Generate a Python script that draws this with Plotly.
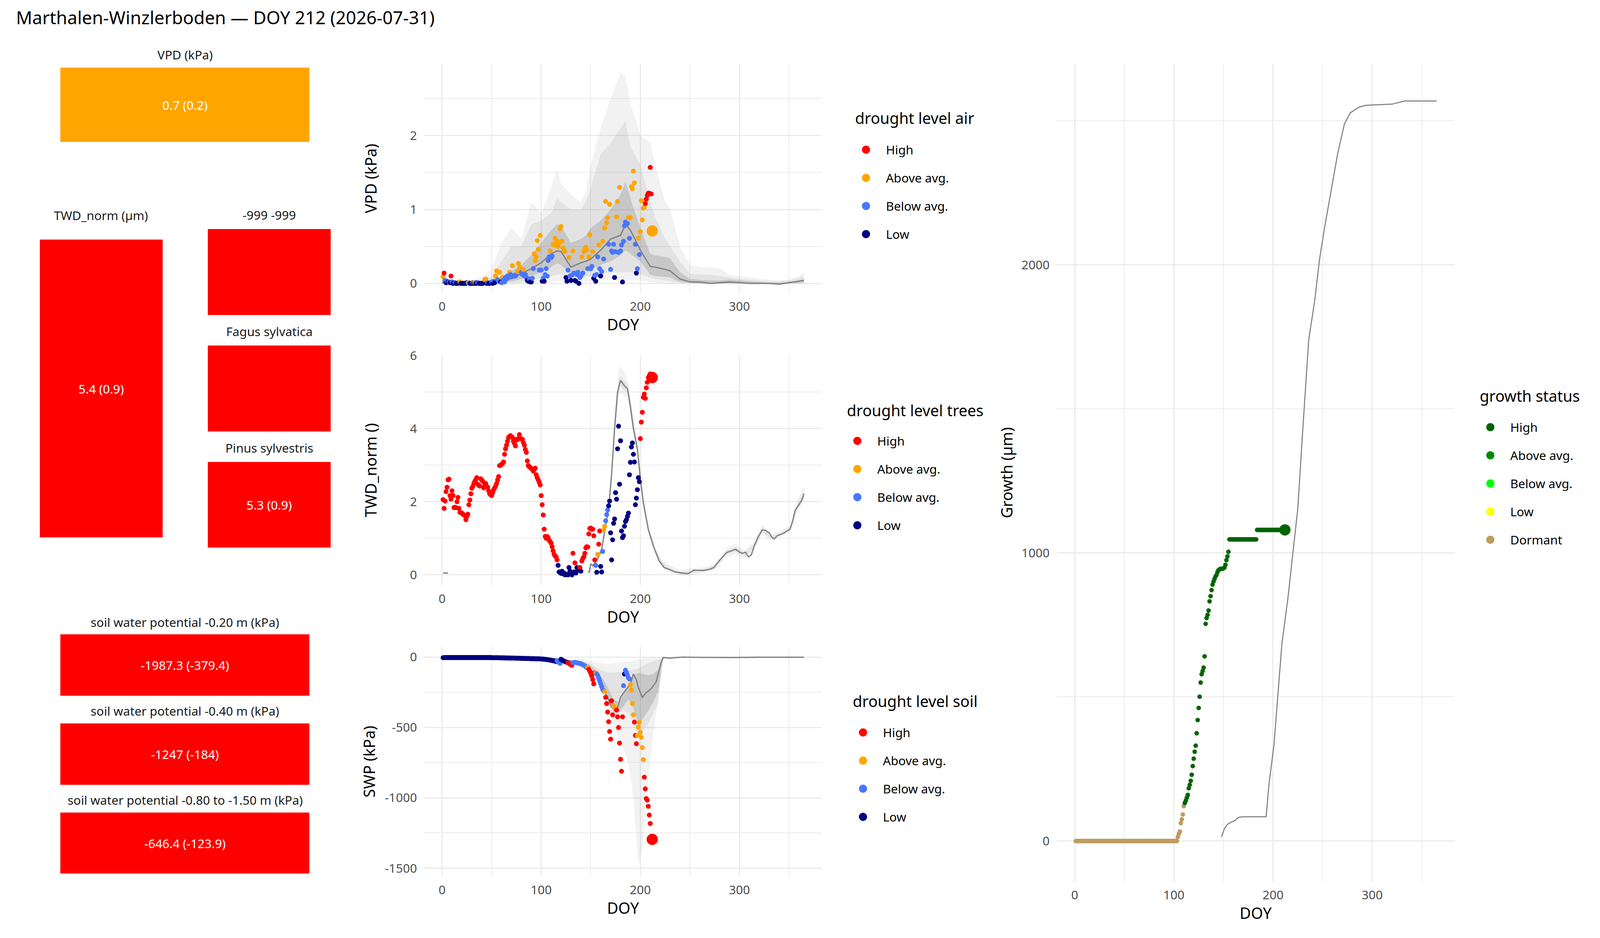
import numpy as np
import plotly.graph_objects as go

# The browser viewport turns out to be 4096 css px wide and 2400 tall (8 px body
# margin).  Geometry below is written in reference-picture pixels (4800x2400)
# and mapped onto that viewport.
SX = 4096 / 4800
SY = 1.0
FSC = 0.9          # text / marker scale
OFF = 8
FW, FH = 4080, 2384
FONT = "Noto Sans"
GRID = "#EBEBEB"
TICK = "#4D4D4D"
LINE_GREY = "#7F7F7F"

TITLE = "Marthalen-Winzlerboden — DOY 212 (2026-07-31)"
CURRENT_DOY = 212

LEVELS = ["High", "Above avg.", "Below avg.", "Low"]
LEVEL_COLORS = {"High": "#FF0000", "Above avg.": "#FFA500", "Below avg.": "#4876FF", "Low": "#000080"}
GROWTH_LEVELS = ["High", "Above avg.", "Below avg.", "Low", "Dormant"]
GROWTH_COLORS = {"High": "#006400", "Above avg.": "#008B00", "Below avg.": "#00FF00",
                 "Low": "#FFFF00", "Dormant": "#BB9D5E"}
CODES = {"H": "High", "A": "Above avg.", "B": "Below avg.", "L": "Low", "D": "Dormant"}

# ---------------- status tiles ----------------
tile_titles = ["VPD (kPa)", "TWD_norm (µm)", "-999 -999", "Fagus sylvatica", "Pinus sylvestris",
               "soil water potential -0.20 m (kPa)", "soil water potential -0.40 m (kPa)",
               "soil water potential -0.80 to -1.50 m (kPa)"]
tile_labels = ["0.7 (0.2)", "5.4 (0.9)", "", "", "5.3 (0.9)",
               "-1987.3 (-379.4)", "-1247 (-184)", "-646.4 (-123.9)"]
tile_levels = ["Above avg.", "High", "High", "High", "High", "High", "High", "High"]

# ---------------- VPD (kPa) ----------------
vpd_high_doy = [2, 9, 205, 206, 207, 208, 209, 210, 211]
vpd_high_val = [0.14, 0.10, 1.08, 1.14, 1.19, 1.22, 1.22, 1.57, 1.21]
vpd_above_doy = [1, 18, 27, 33, 43, 44, 54, 55, 58, 61,
                 68, 71, 76, 77, 78, 79, 82, 93, 94, 95,
                 96, 97, 99, 109, 112, 113, 114, 115, 116, 117,
                 118, 119, 120, 121, 122, 123, 124, 128, 132, 141,
                 143, 144, 145, 146, 148, 149, 152, 158, 162, 164,
                 165, 166, 167, 169, 176, 177, 179, 188, 190, 191,
                 192, 193, 194, 198, 200, 201, 202, 203, 204]
vpd_above_val = [0.09, 0.02, 0.01, 0.01, 0.05, 0.06, 0.10, 0.17, 0.15, 0.08,
                 0.15, 0.24, 0.16, 0.27, 0.22, 0.20, 0.19, 0.40, 0.31, 0.36,
                 0.58, 0.46, 0.65, 0.44, 0.53, 0.52, 0.61, 0.55, 0.57, 0.50,
                 0.55, 0.74, 0.77, 0.57, 0.48, 0.45, 0.43, 0.35, 0.44, 0.36,
                 0.43, 0.47, 0.49, 0.45, 0.36, 0.66, 0.43, 0.52, 0.57, 0.75,
                 1.11, 0.82, 0.89, 1.07, 0.90, 1.11, 1.30, 0.89, 0.89, 1.31,
                 1.28, 1.52, 1.36, 0.61, 0.70, 1.12, 0.86, 1.02, 1.03]
vpd_below_doy = [3, 5, 7, 10, 13, 26, 31, 36, 46, 50,
                 52, 56, 57, 60, 62, 63, 64, 65, 66, 67,
                 69, 70, 72, 73, 74, 75, 80, 81, 83, 84,
                 85, 88, 91, 92, 98, 100, 102, 104, 105, 106,
                 107, 108, 110, 111, 127, 129, 131, 133, 136, 137,
                 139, 140, 142, 147, 150, 151, 154, 156, 157, 159,
                 161, 163, 168, 170, 171, 172, 173, 175, 178, 180,
                 181, 183, 184, 185, 186, 187, 189, 195, 197, 199]
vpd_below_val = [0.04, 0.03, 0.02, 0.02, 0.01, 0.01, 0.01, 0.01, 0.01, 0.02,
                 0.03, 0.05, 0.03, 0.01, 0.05, 0.02, 0.08, 0.06, 0.10, 0.08,
                 0.12, 0.09, 0.10, 0.11, 0.10, 0.12, 0.15, 0.12, 0.10, 0.12,
                 0.08, 0.06, 0.07, 0.20, 0.18, 0.18, 0.07, 0.12, 0.20, 0.10,
                 0.31, 0.36, 0.35, 0.37, 0.18, 0.10, 0.11, 0.14, 0.12, 0.15,
                 0.08, 0.10, 0.14, 0.20, 0.20, 0.23, 0.11, 0.12, 0.36, 0.20,
                 0.16, 0.33, 0.53, 0.19, 0.44, 0.42, 0.53, 0.43, 0.42, 0.44,
                 0.52, 0.57, 0.78, 0.83, 0.80, 0.81, 0.61, 0.53, 0.20, 0.39]
vpd_low_doy = [4, 6, 8, 11, 12, 14, 15, 16, 17, 19,
               20, 21, 22, 23, 24, 25, 28, 29, 30, 32,
               34, 35, 37, 38, 39, 40, 41, 42, 45, 47,
               48, 49, 51, 53, 59, 86, 87, 89, 90, 101,
               103, 125, 126, 130, 134, 135, 138, 153, 155, 160,
               174, 182, 196]
vpd_low_val = [0.01, 0.02, 0.01, 0.0, 0.01, 0.0, 0.0, 0.0, 0.01, 0.0,
               0.0, 0.0, 0.0, 0.0, 0.0, 0.01, 0.0, 0.0, 0.0, 0.0,
               0.0, 0.01, 0.0, 0.0, 0.0, 0.0, 0.0, 0.01, 0.0, 0.0,
               0.0, 0.01, 0.0, 0.01, 0.02, 0.04, 0.03, 0.02, 0.02, 0.03,
               0.03, 0.08, 0.03, 0.04, 0.04, 0.03, 0.0, 0.07, 0.03, 0.10,
               0.08, 0.02, 0.14]
vpd_current = 0.71
vpd_current_level = "Above avg."

# long-term climatology of VPD (quantile bands and median)
vpd_clim_doy = [0, 10, 20, 30, 40, 50, 60, 70, 80, 90,
                100, 110, 116, 120, 130, 140, 145, 150, 160, 170,
                180, 185, 190, 200, 210, 215, 225, 230, 240, 250,
                260, 270, 280, 290, 300, 310, 320, 330, 340, 350,
                360, 365]
vpd_max = [0.12, 0.06, 0.05, 0.05, 0.08, 0.2, 0.55, 0.75, 0.6, 1.1,
           0.95, 1.3, 1.55, 1.35, 1.2, 1.1, 1.25, 1.6, 2.1, 2.5,
           2.85, 2.8, 2.45, 2.0, 1.9, 1.6, 1.1, 1.0, 0.5, 0.25,
           0.22, 0.22, 0.2, 0.12, 0.1, 0.08, 0.06, 0.05, 0.04, 0.05,
           0.1, 0.15]
vpd_min = [0, 0, 0, 0, 0, 0, 0, 0, 0, 0,
           0.02, 0.02, 0.03, 0.03, 0.02, 0.02, 0.02, 0.03, 0.04, 0.05,
           0.05, 0.05, 0.05, 0.04, 0.02, 0.01, 0, 0, 0, 0,
           0, 0, 0, 0, 0, 0, 0, 0, 0, 0,
           0, 0]
vpd_q90 = [0.05, 0.03, 0.03, 0.03, 0.04, 0.1, 0.3, 0.5, 0.5, 0.8,
           0.85, 0.95, 1.15, 1.1, 1.0, 1.0, 1.1, 1.3, 1.75, 1.9,
           2.1, 2.2, 1.85, 1.6, 1.1, 0.9, 0.6, 0.5, 0.3, 0.13,
           0.12, 0.12, 0.1, 0.08, 0.06, 0.05, 0.04, 0.03, 0.03, 0.04,
           0.07, 0.1]
vpd_q10 = [0, 0, 0, 0, 0, 0, 0.0, 0.01, 0.02, 0.05,
           0.07, 0.1, 0.12, 0.12, 0.08, 0.08, 0.09, 0.1, 0.12, 0.15,
           0.15, 0.16, 0.15, 0.12, 0.08, 0.06, 0.04, 0.03, 0.01, 0,
           0, 0, 0, 0, 0, 0, 0, 0, 0, 0,
           0, 0]
vpd_q75 = [0.02, 0.01, 0.01, 0.01, 0.02, 0.04, 0.1, 0.17, 0.25, 0.38,
           0.55, 0.72, 0.8, 0.78, 0.55, 0.6, 0.65, 0.75, 0.85, 1.0,
           1.2, 1.38, 1.15, 0.75, 0.4, 0.38, 0.36, 0.34, 0.15, 0.06,
           0.05, 0.04, 0.04, 0.05, 0.04, 0.03, 0.02, 0.01, 0.01, 0.02,
           0.04, 0.06]
vpd_q25 = [0, 0, 0, 0, 0, 0, 0.01, 0.03, 0.06, 0.1,
           0.15, 0.22, 0.27, 0.25, 0.12, 0.15, 0.17, 0.18, 0.25, 0.3,
           0.38, 0.45, 0.4, 0.3, 0.12, 0.1, 0.09, 0.08, 0.02, 0.01,
           0.0, 0, 0, 0, 0, 0, 0, 0, 0, 0,
           0.01, 0.02]
vpd_median = [0.01, 0.0, 0.0, 0.0, 0.0, 0.01, 0.03, 0.07, 0.13, 0.2,
              0.28, 0.4, 0.44, 0.43, 0.22, 0.28, 0.3, 0.33, 0.45, 0.6,
              0.65, 0.8, 0.72, 0.45, 0.23, 0.22, 0.19, 0.17, 0.06, 0.02,
              0.02, 0.0, 0.01, 0.02, 0.01, 0.0, 0.0, 0.0, -0.01, 0.01,
              0.03, 0.04]

# ---------------- TWD_norm, daily from DOY 1 ----------------
twd_val = [2.06, 1.82, 2.02, 2.28, 2.40, 2.60, 2.62, 2.17, 2.07, 2.30,
           2.17, 1.84, 1.85, 1.84, 2.00, 2.12, 1.82, 1.71, 1.70, 1.69,
           1.66, 1.64, 1.62, 1.51, 1.60, 1.66, 1.92, 2.05, 2.22, 2.37,
           2.42, 2.50, 2.56, 2.60, 2.66, 2.48, 2.45, 2.43, 2.63, 2.60,
           2.56, 2.38, 2.45, 2.50, 2.42, 2.40, 2.30, 2.22, 2.19, 2.17,
           2.25, 2.33, 2.38, 2.43, 2.50, 2.60, 2.69, 2.99, 3.00, 3.02,
           3.05, 3.09, 3.30, 3.45, 3.55, 3.66, 3.76, 3.79, 3.81, 3.78,
           3.76, 3.66, 3.60, 3.53, 3.71, 3.70, 3.73, 3.84, 3.73, 3.72,
           3.71, 3.62, 3.55, 3.43, 3.35, 3.12, 2.99, 2.96, 2.94, 2.91,
           2.89, 2.84, 2.88, 2.92, 2.74, 2.66, 2.60, 2.53, 2.46, 2.17,
           1.92, 1.64, 1.25, 1.05, 1.00, 1.05, 1.02, 0.95, 0.91, 0.87,
           0.77, 0.66, 0.56, 0.52, 0.49, 0.41, 0.26, 0.08, 0.07, 0.04,
           0.10, 0.03, 0.05, 0.00, 0.02, 0.01, 0.00, 0.20, 0.10, 0.03,
           0.00, 0.59, 0.08, 0.33, 0.05, 0.20, 0.13, 0.18, 0.20, 0.10,
           0.38, 0.45, 0.49, 0.59, 0.74, 0.77, 0.76, 1.12, 1.27, 1.28,
           1.25, 1.25, 1.07, 0.41, 0.26, 0.07, 0.56, 0.84, 1.20, 0.23,
           0.08, 0.64, 1.23, 1.33, 1.48, 1.65, 1.78, 1.89, 2.02, 1.15,
           0.41, 0.96, 1.41, 1.53, 2.25, 2.07, 3.45, 4.07, 2.48, 3.67,
           1.20, 1.02, 1.07, 1.33, 1.46, 1.51, 1.60, 1.69, 2.74, 3.08,
           3.50, 3.61, 3.30, 3.09, 1.92, 2.10, 2.33, 2.66, 2.55, 3.73,
           4.18, 4.45, 4.86, 4.95, 4.83, 5.12, 5.27, 5.40, 5.45, 5.50,
           5.45]
twd_codes = "".join(["HHHHHHHHHH", "HHHHHHHHHH", "HHHHHHHHHH", "HHHHHHHHHH", "HHHHHHHHHH",
                     "HHHHHHHHHH", "HHHHHHHHHH", "HHHHHHHHHH", "HHHHHHHHHH", "HHHHHHHHHH",
                     "HHHHHHHHHH", "HHHHHHLLLL", "LLLLLLLLLL", "LHLHLLLLHL", "HHHHHHHHHH",
                     "HHHHBLAHHL", "LBAABBBLLL", "LLLLLLLLLL", "LLLLLLLLLL", "LLLLLLLLLH",
                     "HHHHHHHHHH", "H"])
twd_current = 5.40
twd_current_level = "High"

twd_med_doy = [1, 6, None, 148, 150, 152, 155, 158, 161, 164,
               168, 171, 174, 177, 180, 182, 184, 187, 190, 193,
               197, 200, 203, 208, 213, 219, 224, 229, 235, 242,
               248, 254, 260, 264, 270, 274, 280, 287, 292, 296,
               300, 303, 306, 309, 312, 315, 319, 323, 326, 330,
               333, 335, 338, 344, 348, 351, 354, 356, 360, 363,
               365]
twd_med_val = [0.05, 0.05, None, 0.05, 0.3, 0.25, 0.35, 0.5, 0.7, 1.2,
               1.8, 2.74, 4.0, 5.0, 5.32, 5.25, 5.17, 5.1, 4.6, 4.0,
               3.45, 2.63, 1.97, 1.25, 0.8, 0.38, 0.2, 0.15, 0.08, 0.05,
               0.03, 0.13, 0.12, 0.12, 0.15, 0.2, 0.4, 0.61, 0.66, 0.7,
               0.62, 0.59, 0.62, 0.49, 0.55, 0.8, 1.05, 1.23, 1.22, 1.15,
               1.02, 0.98, 1.07, 1.13, 1.2, 1.25, 1.5, 1.76, 1.92, 2.05,
               2.22]
twd_band_doy = [148, 155, 161, 166, 171, 175, 178, 180, 183, 187,
                192, 197, 202, 208, 215, 222, 230, 240, 250, 262,
                275, 287, 296, 305, 315, 323, 333, 342, 351, 358,
                365]
twd_outer_hi = [0.12, 0.45, 0.82, 1.55, 2.95, 4.7, 5.6, 5.72, 5.6, 5.35,
                4.55, 3.65, 2.4, 1.4, 0.78, 0.42, 0.25, 0.14, 0.17, 0.2,
                0.3, 0.75, 0.85, 0.68, 0.92, 1.38, 1.12, 1.22, 1.35, 2.0,
                2.45]
twd_outer_lo = [0.0, 0.25, 0.6, 1.25, 2.55, 4.1, 4.85, 5.0, 4.9, 4.85,
                4.05, 3.25, 2.0, 1.1, 0.52, 0.2, 0.06, -0.02, 0.0, 0.05,
                0.12, 0.48, 0.56, 0.43, 0.68, 1.1, 0.92, 1.04, 1.15, 1.7,
                2.02]
twd_inner_hi = [0.08, 0.39, 0.75, 1.46, 2.82, 4.5, 5.3, 5.45, 5.33, 5.2,
                4.4, 3.52, 2.27, 1.3, 0.7, 0.34, 0.19, 0.08, 0.11, 0.15,
                0.24, 0.66, 0.76, 0.6, 0.85, 1.29, 1.06, 1.17, 1.29, 1.92,
                2.32]
twd_inner_lo = [0.02, 0.31, 0.65, 1.34, 2.66, 4.3, 5.0, 5.18, 5.07, 5.0,
                4.2, 3.38, 2.13, 1.2, 0.6, 0.26, 0.11, 0.02, 0.05, 0.09,
                0.16, 0.56, 0.64, 0.5, 0.75, 1.17, 0.98, 1.09, 1.21, 1.78,
                2.12]

# ---------------- SWP (kPa), daily from DOY 1 ----------------
swp_val = [-4, -4, -3, -3, -3, -3, -3, -3, -3, -3,
           -3, -3, -3, -3, -3, -3, -3, -3, -3, -3,
           -3, -3, -3, -3, -3, -3, -3, -3, -3, -3,
           -3, -3, -3, -3, -3, -3, -3, -3, -3, -3,
           -3, -3, -3, -3, -3, -3, -3, -3, -3, -4,
           -4, -4, -4, -4, -4, -4, -4, -5, -5, -5,
           -5, -5, -5, -6, -6, -6, -6, -6, -7, -7,
           -7, -7, -7, -8, -8, -8, -8, -8, -9, -9,
           -9, -9, -9, -10, -10, -10, -10, -10, -11, -11,
           -11, -11, -11, -12, -12, -12, -12, -12, -13, -13,
           -14, -14, -15, -16, -17, -18, -19, -20, -21, -23,
           -24, -26, -27, -29, -31, -25, -32, -38, -45, -15,
           -20, -25, -28, -32, -35, -37, -40, -45, -50, -55,
           -58, -40, -38, -37, -38, -40, -42, -43, -45, -48,
           -52, -55, -58, -62, -68, -75, -72, -86, -100, -115,
           -135, -160, -190, -112, -113, -120, -130, -150, -170, -190,
           -210, -230, -240, -245, -286, -330, -390, -459, -528, -583,
           -310, -410, -348, -352, -370, -376, -424, -500, -611, -726,
           -811, -424, -203, -120, -93, -110, -130, -148, -155, -196,
           -234, -330, -410, -462, -556, -615, -556, -498, -463, -535,
           -570, -643, -728, -853, -936, -1005, -1016, -1060, -1122, -1182]
swp_codes = "".join(["LLLLLLLLLL", "LLLLLLLLLL", "LLLLLLLLLL", "LLLLLLLLLL", "LLLLLLLLLL",
                     "LLLLLLLLLL", "LLLLLLLLLL", "LLLLLLLLLL", "LLLLLLLLLL", "LLLLLLLLLL",
                     "LLLLLLLLLL", "LLLLLBBBBL", "LLLLLLHHHH", "HBBBBBBBBB", "BBBBBBAHHH",
                     "HHHHABBBBB", "BBBAHHHHHH", "HHAAAHHHHH", "HHBLBBBBBA", "AAAHHHAAAA",
                     "AAAHHHHHHH"])
swp_current = -1295
swp_current_level = "High"

swp_med_doy = [1, 50, 100, 120, 140, 148, 155, 161, 167, 171,
               174, 177, 180, 184, 190, 193, 196, 198, 202, 206,
               211, 216, 221, 223, 229, 243, 260, 290, 320, 365]
swp_med_val = [-2, -2, -5, -15, -40, -80, -120, -203, -286, -355,
               -376, -362, -286, -245, -190, -120, -162, -217, -286, -252,
               -224, -176, -37, -3, -7, 0, -2, -3, -1, -1]
swp_band_doy = [140, 150, 157, 163, 168, 173, 178, 183, 188, 193, 198, 203, 208, 213, 218, 222, 224]
swp_outer_hi = [-10, -30, -40, -45, -50, -45, -40, -35, -30, -25, -15, -10, -5, -3, -2, -1, 0]
swp_outer_lo = [-40, -90, -170, -270, -380, -480, -580, -650, -760, -1000, -1480, -1300, -850, -550, -300, -80, 0]
swp_mid_hi = [-20, -50, -80, -100, -110, -110, -105, -100, -95, -90, -80, -60, -45, -30, -20, -5, 0]
swp_mid_lo = [-35, -80, -140, -230, -330, -410, -400, -380, -400, -470, -560, -520, -470, -400, -330, -60, 0]
swp_inner_hi = [-25, -60, -110, -160, -230, -300, -320, -270, -200, -130, -110, -120, -130, -120, -90, -20, 0]
swp_inner_lo = [-30, -70, -130, -200, -290, -370, -390, -350, -300, -360, -490, -430, -380, -320, -240, -40, 0]

# ---------------- Growth (µm), daily from DOY 1 ----------------
growth_val = [0, 0, 0, 0, 0, 0, 0, 0, 0, 0,
              0, 0, 0, 0, 0, 0, 0, 0, 0, 0,
              0, 0, 0, 0, 0, 0, 0, 0, 0, 0,
              0, 0, 0, 0, 0, 0, 0, 0, 0, 0,
              0, 0, 0, 0, 0, 0, 0, 0, 0, 0,
              0, 0, 0, 0, 0, 0, 0, 0, 0, 0,
              0, 0, 0, 0, 0, 0, 0, 0, 0, 0,
              0, 0, 0, 0, 0, 0, 0, 0, 0, 0,
              0, 0, 0, 0, 0, 0, 0, 0, 0, 0,
              0, 0, 0, 0, 0, 0, 0, 0, 0, 0,
              0, 0, 0, 14, 25, 33, 62, 75, 92, 121,
              132, 140, 150, 160, 183, 195, 209, 230, 260, 286,
              310, 331, 374, 420, 462, 501, 550, 579, 590, 602,
              641, 754, 774, 785, 800, 832, 850, 871, 890, 901,
              910, 918, 924, 934, 940, 943, 945, 945, 945, 947,
              949, 959, 975, 988, 1004, 1047, 1047, 1047, 1047, 1047,
              1047, 1047, 1047, 1047, 1047, 1047, 1047, 1047, 1047, 1047,
              1047, 1047, 1047, 1047, 1047, 1047, 1047, 1047, 1047, 1047,
              1047, 1047, 1047, 1080, 1080, 1080, 1080, 1080, 1080, 1080,
              1080, 1080, 1080, 1080, 1080, 1080, 1080, 1080, 1080, 1080,
              1080, 1080, 1080, 1080, 1080, 1080, 1080, 1080, 1080, 1080,
              1080]
growth_codes = "".join(["DDDDDDDDDD", "DDDDDDDDDD", "DDDDDDDDDD", "DDDDDDDDDD", "DDDDDDDDDD",
                        "DDDDDDDDDD", "DDDDDDDDDD", "DDDDDDDDDD", "DDDDDDDDDD", "DDDDDDDDDD",
                        "DDDDDDDDDD", "HHHHHHHHHH", "HHHHHHHHHH", "HHHHHHHHHH", "HHHHHHHHHH",
                        "HHHHHHHHHH", "HHHHHHHHHH", "HHHHHHHHHH", "HHHHHHHHHH", "HHHHHHHHHH",
                        "HHHHHHHHHH", "H"])
growth_current = 1080
growth_current_level = "High"

growth_ref_doy = [148, 151, 154, 158, 162, 165, 170, 175, 185, 193,
                  196, 201, 205, 209, 215, 220, 225, 230, 236, 242,
                  247, 252, 258, 265, 272, 278, 287, 294, 320, 333,
                  365]
growth_ref_val = [14, 43, 58, 66, 72, 82, 84, 84, 84, 84,
                  199, 335, 511, 686, 842, 998, 1154, 1427, 1739, 1875,
                  2021, 2129, 2246, 2382, 2489, 2528, 2548, 2554, 2558, 2569,
                  2569]

assert len(twd_val) == len(twd_codes) == 211
assert len(swp_val) == len(swp_codes) == 210
assert len(growth_val) == len(growth_codes) == 211

# ---------------- geometry in reference pixels ----------------
# x0, x1, y0, y1, title centre y
TILE_BOXES = [(181, 929, 173, 363, 139), (119, 488, 613, 1375, 551), (623, 992, 586, 806, 549),
              (623, 992, 884, 1104, 847), (623, 992, 1182, 1401, 1145),
              (181, 929, 1623, 1780, 1591), (181, 929, 1851, 2008, 1818), (181, 929, 2079, 2235, 2046)]
MID_X = (1272, 2466)
PANELS = {
    1: dict(x=MID_X, y=(164, 749)),
    2: dict(x=MID_X, y=(909, 1497)),
    3: dict(x=MID_X, y=(1655, 2242)),
    4: dict(x=(3170, 4364), y=(164, 2255)),
}
# legend: title left x, title centre y, symbol centre x, first and last item centre y
LEGENDS = {
    "legend": ("drought level air", 2563, 302, 2598, 383, 599),
    "legend2": ("drought level trees", 2538, 1050, 2572, 1128, 1344),
    "legend3": ("drought level soil", 2556, 1794, 2589, 1874, 2090),
    "legend4": ("growth status", 4437, 1013, 4471, 1093, 1381),
}


def fx(p):
    return (p * SX - OFF) / FW


def fy(p):
    return 1 - (p * SY - OFF) / FH


def sz(p):
    return p * FSC


def names(i):
    s = "" if i == 1 else str(i)
    return "xaxis" + s, "yaxis" + s, "x" + s, "y" + s


fig = go.Figure()


def add_band(doy, lo, hi, fill, i):
    _, _, xa, ya = names(i)
    fig.add_trace(go.Scatter(x=list(doy) + list(doy)[::-1], y=list(hi) + list(lo)[::-1],
                             mode="lines", fill="toself", fillcolor=fill, line=dict(width=0),
                             hoverinfo="skip", showlegend=False, xaxis=xa, yaxis=ya))


def add_line(doy, vals, i, width=3.5):
    _, _, xa, ya = names(i)
    fig.add_trace(go.Scatter(x=doy, y=vals, mode="lines", line=dict(color=LINE_GREY, width=sz(width)),
                             connectgaps=False, hoverinfo="skip", showlegend=False, xaxis=xa, yaxis=ya))


def add_points(doy, vals, levels, colors, i, size=14):
    _, _, xa, ya = names(i)
    fig.add_trace(go.Scatter(x=doy, y=vals, mode="markers",
                             marker=dict(size=sz(size), color=[colors[l] for l in levels], line=dict(width=0)),
                             showlegend=False, xaxis=xa, yaxis=ya))


def add_legend_entries(legend_id, levels, colors, i):
    _, _, xa, ya = names(i)
    for lvl in levels:
        fig.add_trace(go.Scatter(x=[None], y=[None], mode="markers", name=lvl,
                                 marker=dict(size=16, color=colors[lvl], line=dict(width=5, color=colors[lvl])),
                                 legend=legend_id, legendgroup=legend_id + lvl, showlegend=True,
                                 hoverinfo="skip", xaxis=xa, yaxis=ya))


BAND_OUTER = "rgba(127,127,127,0.10)"
BAND_MID = "rgba(127,127,127,0.12)"
BAND_INNER = "rgba(127,127,127,0.28)"

# VPD panel
add_band(vpd_clim_doy, vpd_min, vpd_max, BAND_OUTER, 1)
add_band(vpd_clim_doy, vpd_q10, vpd_q90, BAND_MID, 1)
add_band(vpd_clim_doy, vpd_q25, vpd_q75, BAND_INNER, 1)
add_line(vpd_clim_doy, vpd_median, 1)
vpd_pts = []
for lvl, d, v in [("High", vpd_high_doy, vpd_high_val), ("Above avg.", vpd_above_doy, vpd_above_val),
                  ("Below avg.", vpd_below_doy, vpd_below_val), ("Low", vpd_low_doy, vpd_low_val)]:
    vpd_pts += [(dd, vv, lvl) for dd, vv in zip(d, v)]
vpd_pts.sort()
add_points([p[0] for p in vpd_pts], [p[1] for p in vpd_pts], [p[2] for p in vpd_pts], LEVEL_COLORS, 1)
add_points([CURRENT_DOY], [vpd_current], [vpd_current_level], LEVEL_COLORS, 1, size=32)
add_legend_entries("legend", LEVELS, LEVEL_COLORS, 1)

# TWD panel
twd_doy = np.arange(1, len(twd_val) + 1)
add_band(twd_band_doy, twd_outer_lo, twd_outer_hi, BAND_OUTER, 2)
add_band(twd_band_doy, twd_inner_lo, twd_inner_hi, BAND_MID, 2)
add_line(twd_med_doy, twd_med_val, 2)
add_points(twd_doy, twd_val, [CODES[c] for c in twd_codes], LEVEL_COLORS, 2)
add_points([CURRENT_DOY], [twd_current], [twd_current_level], LEVEL_COLORS, 2, size=32)
add_legend_entries("legend2", LEVELS, LEVEL_COLORS, 2)

# SWP panel
swp_doy = np.arange(1, len(swp_val) + 1)
add_band(swp_band_doy, swp_outer_lo, swp_outer_hi, BAND_OUTER, 3)
add_band(swp_band_doy, swp_mid_lo, swp_mid_hi, BAND_MID, 3)
add_band(swp_band_doy, swp_inner_lo, swp_inner_hi, BAND_INNER, 3)
add_line(swp_med_doy, swp_med_val, 3)
add_points(swp_doy, swp_val, [CODES[c] for c in swp_codes], LEVEL_COLORS, 3)
add_points([CURRENT_DOY], [swp_current], [swp_current_level], LEVEL_COLORS, 3, size=32)
add_legend_entries("legend3", LEVELS, LEVEL_COLORS, 3)

# Growth panel
growth_doy = np.arange(1, len(growth_val) + 1)
add_line(growth_ref_doy, growth_ref_val, 4, width=3)
add_points(growth_doy, growth_val, [CODES[c] for c in growth_codes], GROWTH_COLORS, 4, size=13)
add_points([CURRENT_DOY], [growth_current], [growth_current_level], GROWTH_COLORS, 4, size=32)
add_legend_entries("legend4", GROWTH_LEVELS, GROWTH_COLORS, 4)

# status tiles, one small hidden axis each
for k, (label, lvl) in enumerate(zip(tile_labels, tile_levels)):
    _, _, xa, ya = names(5 + k)
    fig.add_trace(go.Bar(x=[0], y=[1], width=[1], text=[label], textposition="inside",
                         insidetextanchor="middle", textangle=0,
                         textfont=dict(color="white", size=sz(35), family=FONT),
                         marker=dict(color=LEVEL_COLORS[lvl], line=dict(width=0)),
                         hoverinfo="skip", showlegend=False, xaxis=xa, yaxis=ya))

layout = {}
annotations = []

x_common = dict(range=[-18.25, 383.25], tickvals=[0, 100, 200, 300],
                minor=dict(tickvals=[50, 150, 250, 350], showgrid=True, gridcolor=GRID, gridwidth=1.7),
                showgrid=True, gridcolor=GRID, gridwidth=3.2, zeroline=False, showline=False,
                automargin=False, ticks="", ticklabelstandoff=13,
                tickfont=dict(size=sz(35), color=TICK, family=FONT),
                title=dict(text="DOY", font=dict(size=sz(44), color="black", family=FONT), standoff=12))

y_specs = {
    1: dict(range=[-0.126, 2.967], tickvals=[0, 1, 2], ticktext=["0", "1", "2"], minor=[0.5, 1.5, 2.5],
            title="VPD (kPa)", standoff=72),
    2: dict(range=[-0.28, 6.01], tickvals=[0, 2, 4, 6], ticktext=["0", "2", "4", "6"], minor=[1, 3, 5],
            title="TWD_norm ()", standoff=72),
    3: dict(range=[-1557, 73], tickvals=[-1500, -1000, -500, 0], ticktext=["-1500", "-1000", "-500", "0"],
            minor=[-1250, -750, -250], title="SWP (kPa)", standoff=12),
    4: dict(range=[-140, 2697], tickvals=[0, 1000, 2000], ticktext=["0", "1000", "2000"],
            minor=[500, 1500, 2500], title="Growth (µm)", standoff=10),
}

for i, geo in PANELS.items():
    xn, yn, xa, ya = names(i)
    spec = y_specs[i]
    layout[xn] = dict(x_common, domain=[fx(geo["x"][0]), fx(geo["x"][1])], anchor=ya)
    layout[yn] = dict(domain=[fy(geo["y"][1]), fy(geo["y"][0])], anchor=xa, range=spec["range"],
                      tickvals=spec["tickvals"], ticktext=spec["ticktext"],
                      minor=dict(tickvals=spec["minor"], showgrid=True, gridcolor=GRID, gridwidth=1.7),
                      showgrid=True, gridcolor=GRID, gridwidth=3.2, zeroline=False, showline=False,
                      automargin=False, ticks="", ticklabelstandoff=17,
                      tickfont=dict(size=sz(35), color=TICK, family=FONT),
                      title=dict(text=spec["title"], font=dict(size=sz(44), color="black", family=FONT),
                                 standoff=spec["standoff"]))

for k, (x0, x1, y0, y1, ty) in enumerate(TILE_BOXES):
    xn, yn, xa, ya = names(5 + k)
    layout[xn] = dict(domain=[fx(x0), fx(x1)], anchor=ya, range=[-0.5, 0.5], visible=False,
                      fixedrange=True, automargin=False)
    layout[yn] = dict(domain=[fy(y1), fy(y0)], anchor=xa, range=[0, 1], visible=False,
                      fixedrange=True, automargin=False)
    annotations.append(dict(text=tile_titles[k], x=fx((x0 + x1) / 2), y=fy(ty), xref="paper", yref="paper",
                            xanchor="center", yanchor="middle", showarrow=False,
                            font=dict(size=sz(35), color="#1A1A1A", family=FONT)))

ITEM_WIDTH = 92
ITEM_HEIGHT = sz(35) * 1.3 + 3
for lid, (ltitle, tx, ty, sx, first_y, last_y) in LEGENDS.items():
    annotations.append(dict(text=ltitle, x=fx(tx), y=fy(ty), xref="paper", yref="paper",
                            xanchor="left", yanchor="middle", showarrow=False,
                            font=dict(size=sz(44), color="black", family=FONT)))
    x0_css = sx * SX - OFF - (ITEM_WIDTH + 10) / 2
    layout[lid] = dict(font=dict(size=sz(35), color="black", family=FONT),
                       x=x0_css / FW, y=fy((first_y + last_y) / 2), xanchor="left", yanchor="middle",
                       bgcolor="rgba(0,0,0,0)", borderwidth=0, itemwidth=ITEM_WIDTH,
                       tracegroupgap=72 * SY - ITEM_HEIGHT, traceorder="grouped")

fig.update_layout(
    width=FW, height=FH,
    margin=dict(l=0, r=0, t=0, b=0, pad=0, autoexpand=False),
    paper_bgcolor="white", plot_bgcolor="white",
    font=dict(family=FONT, size=sz(35), color="black"),
    title=dict(text=TITLE, x=fx(48), xanchor="left", y=fy(46), yanchor="middle",
               font=dict(size=sz(51), color="black", family=FONT)),
    showlegend=True,
    annotations=annotations,
    bargap=0,
    **layout,
)

fig.write_html("out.html")
